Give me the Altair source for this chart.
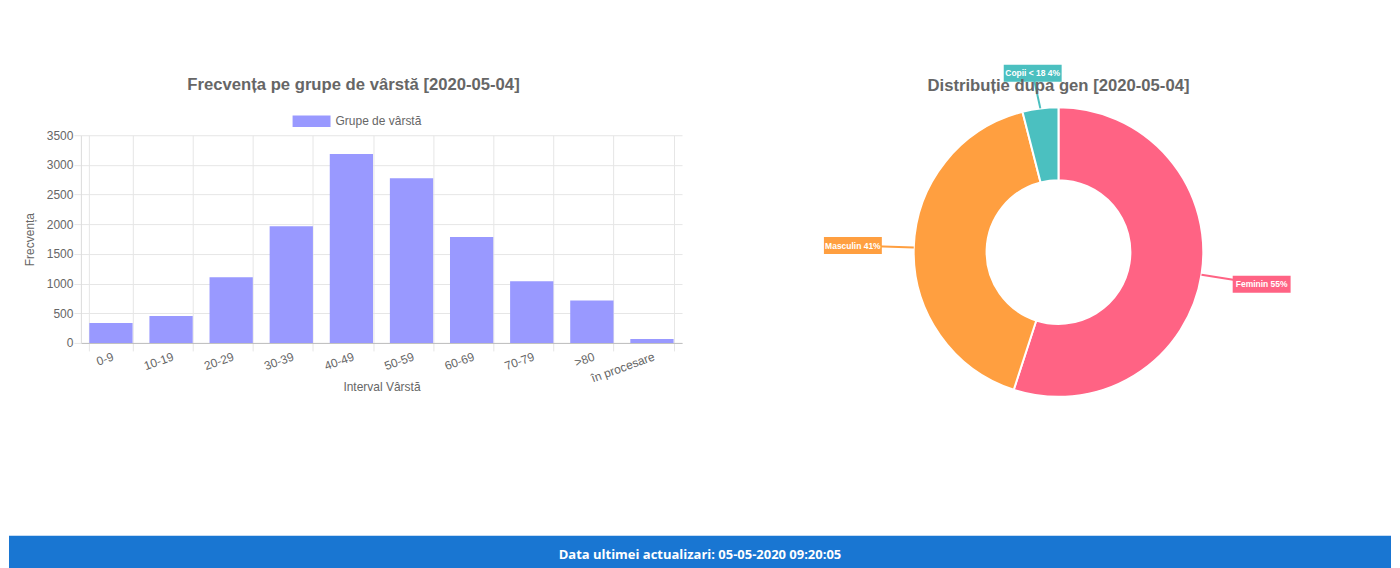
import altair as alt
import pandas as pd

# ---- data ----
age_groups = ["0-9", "10-19", "20-29", "30-39", "40-49", "50-59", "60-69", "70-79", ">80", "în procesare"]
age_counts = [337, 455, 1107, 1966, 3185, 2775, 1787, 1039, 713, 67]
y_ticks = [0, 500, 1000, 1500, 2000, 2500, 3000, 3500]

gender = ["Feminin", "Masculin", "Copii < 18"]
gender_pct = [55, 41, 4]
gender_order = [0, 1, 2]
gender_colors = ["#ff6384", "#ff9f40", "#4bc0c0"]

bar_title = "Frecvența pe grupe de vârstă [2020-05-04]"
pie_title = "Distribuție dupa gen [2020-05-04]"
legend_label = "Grupe de vârstă"
x_title = "Interval Vârstă"
y_title = "Frecvența"
footer_text = "Data ultimei actualizari: 05-05-2020 09:20:05"

FONT = "Liberation Sans"
GRID = "#e6e6e6"
TXT = "#666666"

# ---- bar chart ----
bar_df = pd.DataFrame({"grupa": age_groups, "n": age_counts, "serie": [legend_label] * len(age_groups)})

bars = alt.Chart(bar_df).mark_bar().encode(
    x=alt.X(
        "grupa:N",
        sort=age_groups,
        scale=alt.Scale(paddingInner=0.28, paddingOuter=0.14),
        axis=alt.Axis(
            title=x_title, labelAngle=-20, tickBand="extent", grid=True,
            gridColor=GRID, tickColor=GRID, tickSize=8, domainColor="#bfbfbf",
            labelPadding=0, titlePadding=-3, labelFontSize=12, labelColor=TXT,
            titleColor=TXT, titleFontSize=12, titleFontWeight="normal",
        ),
    ),
    y=alt.Y(
        "n:Q",
        scale=alt.Scale(domain=[0, 3500], nice=False),
        axis=alt.Axis(
            values=y_ticks, format="d", title=y_title, tickSize=7, labelPadding=1,
            gridColor=GRID, tickColor=GRID, domainColor="#dcdcdc",
            titlePadding=10, labelFontSize=12, labelColor=TXT,
            titleColor=TXT, titleFontSize=12, titleFontWeight="normal",
        ),
    ),
    color=alt.Color(
        "serie:N",
        scale=alt.Scale(domain=[legend_label], range=["#9999ff"]),
        legend=alt.Legend(
            title=None, orient="none", legendX=212, legendY=-33,
            symbolType="M-1,-0.3H1V0.3H-1Z", symbolSize=1444, symbolStrokeWidth=0,
            labelFontSize=12, labelColor=TXT, labelOffset=5, padding=0,
        ),
    ),
)

# footer band (page decoration drawn under the charts)
foot_df = pd.DataFrame({"t": [footer_text]})
footer_band = alt.Chart(foot_df).mark_rect(color="#1976d2").encode(
    x=alt.value(-72), x2=alt.value(1312), y=alt.value(401), y2=alt.value(445)
)
footer_txt = alt.Chart(foot_df).mark_text(
    font="Open Sans", fontSize=13, fontWeight="bold", color="white"
).encode(text="t:N", x=alt.value(620), y=alt.value(420))

bar_panel = alt.layer(bars, footer_band, footer_txt).properties(
    width=602, height=208,
    title=alt.TitleParams(bar_title, fontSize=16.7, font=FONT, fontWeight="bold",
                          color=TXT, anchor="middle", frame="group", offset=9, dx=-28),
)

# ---- doughnut ----
pie_df = pd.DataFrame({"gen": gender, "pct": gender_pct, "idx": gender_order})
color = alt.Color("gen:N", scale=alt.Scale(domain=gender, range=gender_colors), legend=None)
xs = alt.Scale(domain=[-315, 315], nice=False, zero=False)
ys = alt.Scale(domain=[-117, 117], nice=False, zero=False)

base = alt.Chart(pie_df)
arc = base.mark_arc(radius=145, radius2=72, stroke="white", strokeWidth=2).encode(
    theta=alt.Theta("pct:Q", stack=True),
    order=alt.Order("idx:Q"),
    color=color,
)

lab = (
    base.transform_window(cum="sum(pct)", sort=[alt.SortField("idx")], frame=[None, 0])
    .transform_joinaggregate(total="sum(pct)")
    .transform_calculate(mid="(datum.cum - datum.pct/2) / datum.total * 2 * PI")
    .transform_calculate(ex="145 * sin(datum.mid)", ey="145 * cos(datum.mid)",
                         lx="206 * sin(datum.mid)", ly0="206 * cos(datum.mid)")
    .transform_calculate(ly="min(datum.ly0, 179)",
                         label="datum.gen + ' ' + datum.pct + '%'")
    .transform_calculate(bx1="datum.lx - 29", bx2="datum.lx + 29",
                         by1="datum.ly - 8.5", by2="datum.ly + 8.5")
)

lines = lab.mark_rule(strokeWidth=2).encode(
    x=alt.X("ex:Q", scale=xs, axis=None), x2="lx:Q",
    y=alt.Y("ey:Q", scale=ys, axis=None), y2="ly:Q",
    color=color,
)
boxes = lab.mark_rect().encode(
    x=alt.X("bx1:Q", scale=xs, axis=None), x2="bx2:Q",
    y=alt.Y("by1:Q", scale=ys, axis=None), y2="by2:Q",
    color=color,
)
texts = lab.mark_text(font=FONT, fontSize=8.5, fontWeight="bold", color="white").encode(
    x=alt.X("lx:Q", scale=xs, axis=None),
    y=alt.Y("ly:Q", scale=ys, axis=None),
    text="label:N",
)

donut = alt.layer(arc, lines, boxes, texts).properties(
    width=630, height=234,
    title=alt.TitleParams(pie_title, fontSize=16.7, font=FONT, fontWeight="bold",
                          color=TXT, anchor="middle", frame="group", offset=-30),
)

chart = alt.hconcat(bar_panel, donut, spacing=62, bounds="flush").resolve_scale(
    color="independent", x="independent", y="independent"
).properties(
    padding={"left": 0, "top": 55, "right": 0, "bottom": 0}
).configure(font=FONT).configure_view(stroke="transparent")

chart.save("out.html", embed_options={"renderer": "svg", "actions": False})
